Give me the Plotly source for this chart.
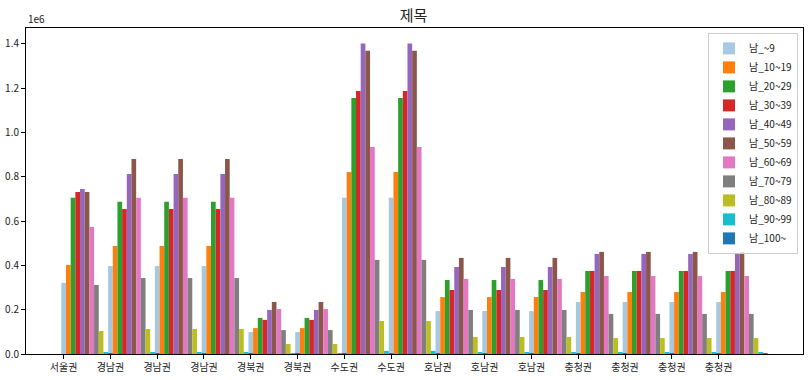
import numpy as np
import plotly.graph_objects as go

regions = ['서울권', '경남권', '경남권', '경남권', '경북권', '경북권', '수도권', '수도권',
           '호남권', '호남권', '호남권', '충청권', '충청권', '충청권', '충청권']

series_names = ['남_~9', '남_10~19', '남_20~29', '남_30~39', '남_40~49', '남_50~59',
                '남_60~69', '남_70~79', '남_80~89', '남_90~99', '남_100~']

m_0_9 = [321000, 397000, 397000, 397000, 99000, 99000, 705000, 705000,
         194000, 194000, 194000, 235000, 235000, 235000, 235000]
m_10_19 = [402000, 488000, 488000, 488000, 117000, 117000, 822000, 822000,
           257000, 257000, 257000, 280000, 280000, 280000, 280000]
m_20_29 = [705000, 687000, 687000, 687000, 163000, 163000, 1156000, 1156000,
           334000, 334000, 334000, 375000, 375000, 375000, 375000]
m_30_39 = [732000, 655000, 655000, 655000, 154000, 154000, 1188000, 1188000,
           289000, 289000, 289000, 375000, 375000, 375000, 375000]
m_40_49 = [745000, 813000, 813000, 813000, 199000, 199000, 1402000, 1402000,
           393000, 393000, 393000, 452000, 452000, 452000, 452000]
m_50_59 = [732000, 881000, 881000, 881000, 235000, 235000, 1369000, 1369000,
           434000, 434000, 434000, 461000, 461000, 461000, 461000]
m_60_69 = [574000, 705000, 705000, 705000, 203000, 203000, 935000, 935000,
           339000, 339000, 339000, 352000, 352000, 352000, 352000]
m_70_79 = [312000, 343000, 343000, 343000, 108000, 108000, 425000, 425000,
           199000, 199000, 199000, 181000, 181000, 181000, 181000]
m_80_89 = [104000, 113000, 113000, 113000, 45000, 45000, 149000, 149000,
           77000, 77000, 77000, 72000, 72000, 72000, 72000]
m_90_99 = [9000, 9000, 9000, 9000, 4000, 4000, 14000, 14000,
           9000, 9000, 9000, 5000, 5000, 5000, 5000]
m_100 = [500, 500, 500, 500, 300, 300, 800, 800,
         500, 500, 500, 300, 300, 300, 300]

series_values = [m_0_9, m_10_19, m_20_29, m_30_39, m_40_49, m_50_59,
                 m_60_69, m_70_79, m_80_89, m_90_99, m_100]

colors = ['#a6c8e0', '#ff7f0e', '#2ca02c', '#d62728', '#9467bd', '#8c564b',
          '#e377c2', '#7f7f7f', '#bcbd22', '#17becf', '#1f77b4']

y_ticks = [0, 200000, 400000, 600000, 800000, 1000000, 1200000, 1400000]
y_tick_labels = ['0.0', '0.2', '0.4', '0.6', '0.8', '1.0', '1.2', '1.4']

FONT = 'Noto Sans CJK KR'
TXT = '#222222'
bw = 0.1
xs = np.arange(len(regions))

fig = go.Figure()
for k, (name, vals) in enumerate(zip(series_names, series_values)):
    fig.add_trace(go.Bar(
        x=xs, y=vals, name=name, width=bw, offset=-bw / 2 + k * bw,
        marker=dict(color=colors[k], line=dict(width=0)),
    ))

fig.update_layout(
    width=809, height=380,
    margin=dict(l=23, r=5, t=28, b=26),
    barmode='overlay',
    plot_bgcolor='white', paper_bgcolor='white',
    font=dict(family=FONT, size=10, color=TXT),
    title=dict(text='제목', x=(23 + 781 / 2) / 809, xanchor='center',
               y=1 - 16 / 380, yanchor='middle',
               font=dict(family=FONT, size=15, color=TXT)),
    showlegend=True,
    legend=dict(x=0.9936, y=0.985, xanchor='right', yanchor='top',
                bgcolor='rgba(255,255,255,0.8)', bordercolor='#cccccc', borderwidth=1,
                font=dict(family=FONT, size=10, color=TXT),
                tracegroupgap=0, itemwidth=30),
    xaxis=dict(range=[-0.805, 15.805], tickmode='array', tickvals=list(xs),
               ticktext=regions, showgrid=False, zeroline=False,
               showline=True, linecolor='black', linewidth=1, mirror=True,
               ticks='outside', ticklen=4, tickcolor='black',
               tickfont=dict(family=FONT, size=10, color=TXT)),
    yaxis=dict(range=[0, 1472000], tickmode='array', tickvals=y_ticks,
               ticktext=y_tick_labels, showgrid=False, zeroline=False,
               showline=True, linecolor='black', linewidth=1, mirror=True,
               ticks='outside', ticklen=4, tickcolor='black',
               tickfont=dict(family=FONT, size=10, color=TXT)),
    annotations=[dict(text='1e6', xref='paper', yref='paper', x=0, y=1,
                      xanchor='left', yanchor='bottom', showarrow=False,
                      font=dict(family=FONT, size=10, color=TXT))],
)

fig.write_html('out.html')
